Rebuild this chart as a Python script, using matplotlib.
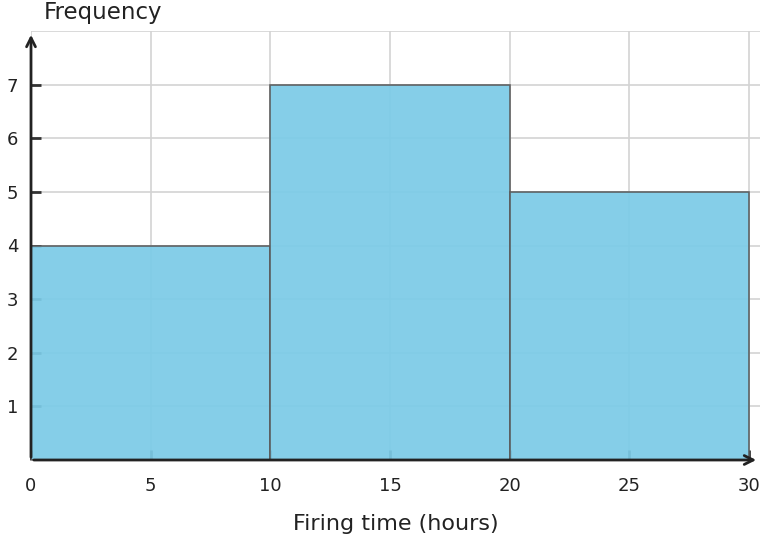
import matplotlib
matplotlib.use("Agg")
import matplotlib.pyplot as plt

# histogram data
bin_edges = [0, 10, 20, 30]
freqs = [4, 7, 5]
xticks = [0, 5, 10, 15, 20, 25, 30]
yticks = [1, 2, 3, 4, 5, 6, 7]

fig = plt.figure(figsize=(7.65, 5.41), dpi=100)
ax = fig.add_axes([31/765, 1 - 460/541, (760 - 31)/765, (460 - 31)/541])

ax.set_xlim(0, 30.46)
ax.set_ylim(0, 8)
ax.set_axisbelow(True)

widths = [bin_edges[i+1] - bin_edges[i] for i in range(len(freqs))]
ax.bar(bin_edges[:-1], freqs, width=widths, align='edge',
       color='#7ccbe7', alpha=0.93, edgecolor='#5a5a5a', linewidth=1.2, zorder=3)

ax.set_xticks(xticks)
ax.set_yticks(yticks)
ax.set_yticks([8], minor=True)
ax.grid(True, color='#d3d3d3', linewidth=1.2)
ax.grid(True, which='minor', axis='y', color='#d3d3d3', linewidth=1.2)
ax.tick_params(axis='both', which='major', direction='in', length=7, width=2,
               color='#333333', labelsize=13, labelcolor='#222222')
ax.tick_params(axis='y', which='minor', length=0)
ax.tick_params(axis='x', pad=12)
ax.tick_params(axis='y', pad=9)

for s in ax.spines.values():
    s.set_visible(False)

# axis arrows
ax.annotate('', xy=(1.0 - 1/729, 0), xytext=(0, 0), xycoords='axes fraction',
            arrowprops=dict(arrowstyle='->', lw=2, color='#222222', mutation_scale=16),
            zorder=5, annotation_clip=False)
ax.annotate('', xy=(0, 1.0 - 1/429), xytext=(0, 0), xycoords='axes fraction',
            arrowprops=dict(arrowstyle='->', lw=2, color='#222222', mutation_scale=16),
            zorder=5, annotation_clip=False)

fig.text(44/765, 1 - 13/541, 'Frequency', fontsize=16.5, color='#222222',
         ha='left', va='center')
fig.text(396/765, 1 - 524/541, 'Firing time (hours)', fontsize=16, color='#222222',
         ha='center', va='center')

fig.savefig('out.png', dpi=100)
